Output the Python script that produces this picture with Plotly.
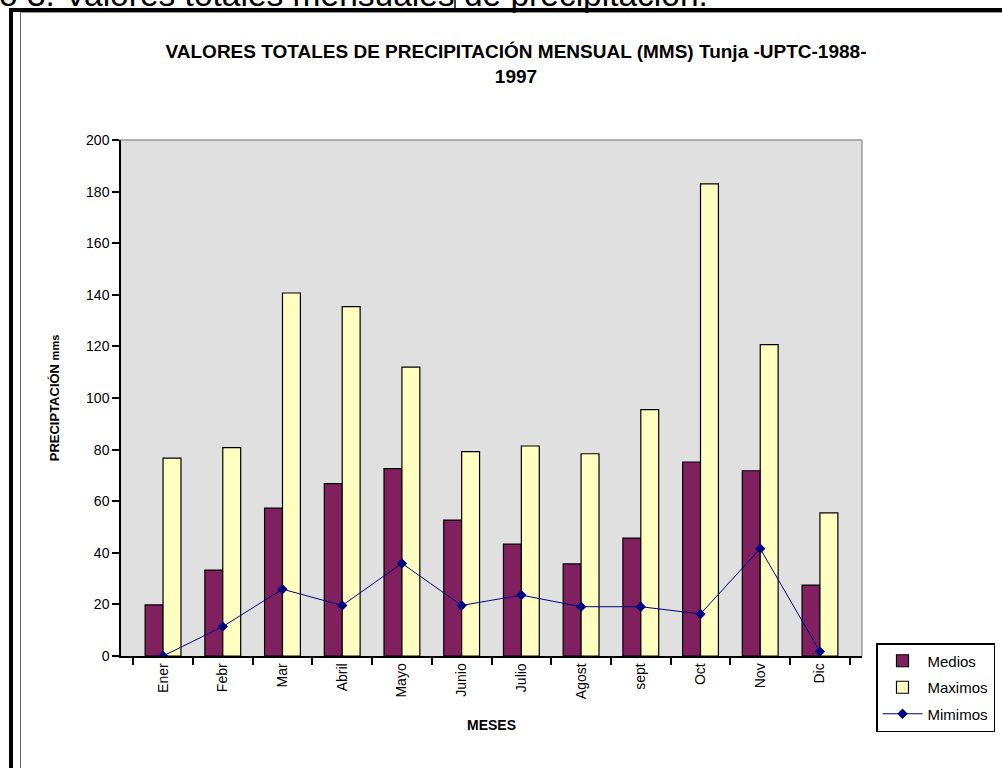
import plotly.graph_objects as go

meses = ["Ener", "Febr", "Mar", "Abril", "Mayo", "Junio", "Julio", "Agost", "sept", "Oct", "Nov", "Dic"]
medios = [19.8, 33.3, 57.3, 66.8, 72.6, 52.7, 43.4, 35.7, 45.7, 75.2, 71.8, 27.5]
maximos = [76.7, 80.8, 140.7, 135.4, 112.0, 79.2, 81.4, 78.4, 95.5, 183.0, 120.7, 55.5]
minimos = [0.0, 11.4, 25.9, 19.6, 35.9, 19.6, 23.6, 19.1, 19.1, 16.3, 41.6, 1.7]

FONT = "Arial, 'Liberation Sans', sans-serif"

# plot-area pixel geometry (page coordinates; body margin removed below)
L, R, T, B = 121, 862, 140, 656
W, H = 1002, 768

def px(x):
    return (x - L) / (R - L)

def py(y):
    return (B - y) / (B - T)

fig = go.Figure()
fig.add_trace(go.Bar(x=meses, y=medios, name="Medios", legendgroup="a",
                     marker=dict(color="#80205F", line=dict(color="#000000", width=1.2))))
fig.add_trace(go.Bar(x=meses, y=maximos, name="Maximos", legendgroup="b",
                     marker=dict(color="#FFFFC2", line=dict(color="#000000", width=1.2))))
fig.add_trace(go.Scatter(x=meses, y=minimos, name="Mimimos", legendgroup="c", mode="lines+markers",
                         line=dict(color="#000080", width=1),
                         marker=dict(symbol="diamond", size=8, color="#000080")))

shapes = [
    # gray top/right border of plot area
    dict(type="line", xref="paper", yref="paper", x0=0, x1=1, y0=1, y1=1, line=dict(color="#999999", width=1.5)),
    dict(type="line", xref="paper", yref="paper", x0=1, x1=1, y0=0, y1=1, line=dict(color="#999999", width=1.5)),
    # outer frame
    dict(type="line", xref="paper", yref="paper", x0=px(9), x1=px(1010), y0=py(10), y1=py(10), line=dict(color="#000000", width=4)),
    dict(type="line", xref="paper", yref="paper", x0=px(11), x1=px(11), y0=py(8), y1=py(780), line=dict(color="#000000", width=4)),
    dict(type="line", xref="paper", yref="paper", x0=px(20.5), x1=px(20.5), y0=py(12), y1=py(780), line=dict(color="#666666", width=1)),
    dict(type="line", xref="paper", yref="paper", x0=px(20.5), x1=px(1010), y0=py(12.5), y1=py(12.5), line=dict(color="#999999", width=1)),
    dict(type="line", xref="paper", yref="paper", x0=px(455), x1=px(455), y0=py(0), y1=py(9), line=dict(color="#000000", width=1.5)),
]

annotations = [
    dict(text="o 3. Valores totales mensuales de precipitación.", xref="paper", yref="paper",
         x=px(-3), y=py(15), xanchor="left", yanchor="bottom", showarrow=False,
         font=dict(family=FONT, size=33.5, color="#000000")),
]

fig.update_layout(
    width=W, height=H,
    margin=dict(l=L, r=W - R, t=T, b=H - B, pad=0, autoexpand=False),
    paper_bgcolor="#FFFFFF", plot_bgcolor="#E0E0E0",
    barmode="group", bargap=0.4, bargroupgap=0,
    font=dict(family=FONT, size=12, color="#000000"),
    title=dict(text="<b>VALORES TOTALES DE PRECIPITACIÓN MENSUAL (MMS) Tunja -UPTC-1988-<br>1997</b>",
               x=516 / W, xanchor="center", y=1 - 58 / H, yanchor="top",
               font=dict(family=FONT, size=19, color="#000000")),
    showlegend=True,
    legend=dict(x=px(876), y=py(643), xanchor="left", yanchor="top",
                bgcolor="#FFFFFF", bordercolor="#000000", borderwidth=1.5,
                font=dict(family=FONT, size=15, color="#000000"),
                tracegroupgap=4, traceorder="grouped", itemwidth=40),
    xaxis=dict(type="category", showline=True, linecolor="#000000", linewidth=1.5,
               ticks="outside", tickson="boundaries", ticklen=7, tickcolor="#000000", tickwidth=1.5,
               tickangle=-90, showgrid=False, zeroline=False,
               tickfont=dict(family=FONT, size=14, color="#000000"),
               title=dict(text="<b>MESES</b>", standoff=22, font=dict(family=FONT, size=14, color="#000000"))),
    yaxis=dict(range=[0, 200], dtick=20, showline=True, linecolor="#000000", linewidth=1.5,
               ticks="outside", ticklen=7, tickcolor="#000000", tickwidth=1.5,
               showgrid=False, zeroline=False,
               tickfont=dict(family=FONT, size=14, color="#000000"),
               title=dict(text="<b>PRECIPTACIÓN</b> <span style='font-size:11px'><b>mms</b></span>", standoff=24,
                          font=dict(family=FONT, size=13, color="#000000"))),
    shapes=shapes,
    annotations=annotations,
)

fig.write_html("out.html", config={"displayModeBar": False},
               post_script="document.body.style.margin='0';")
